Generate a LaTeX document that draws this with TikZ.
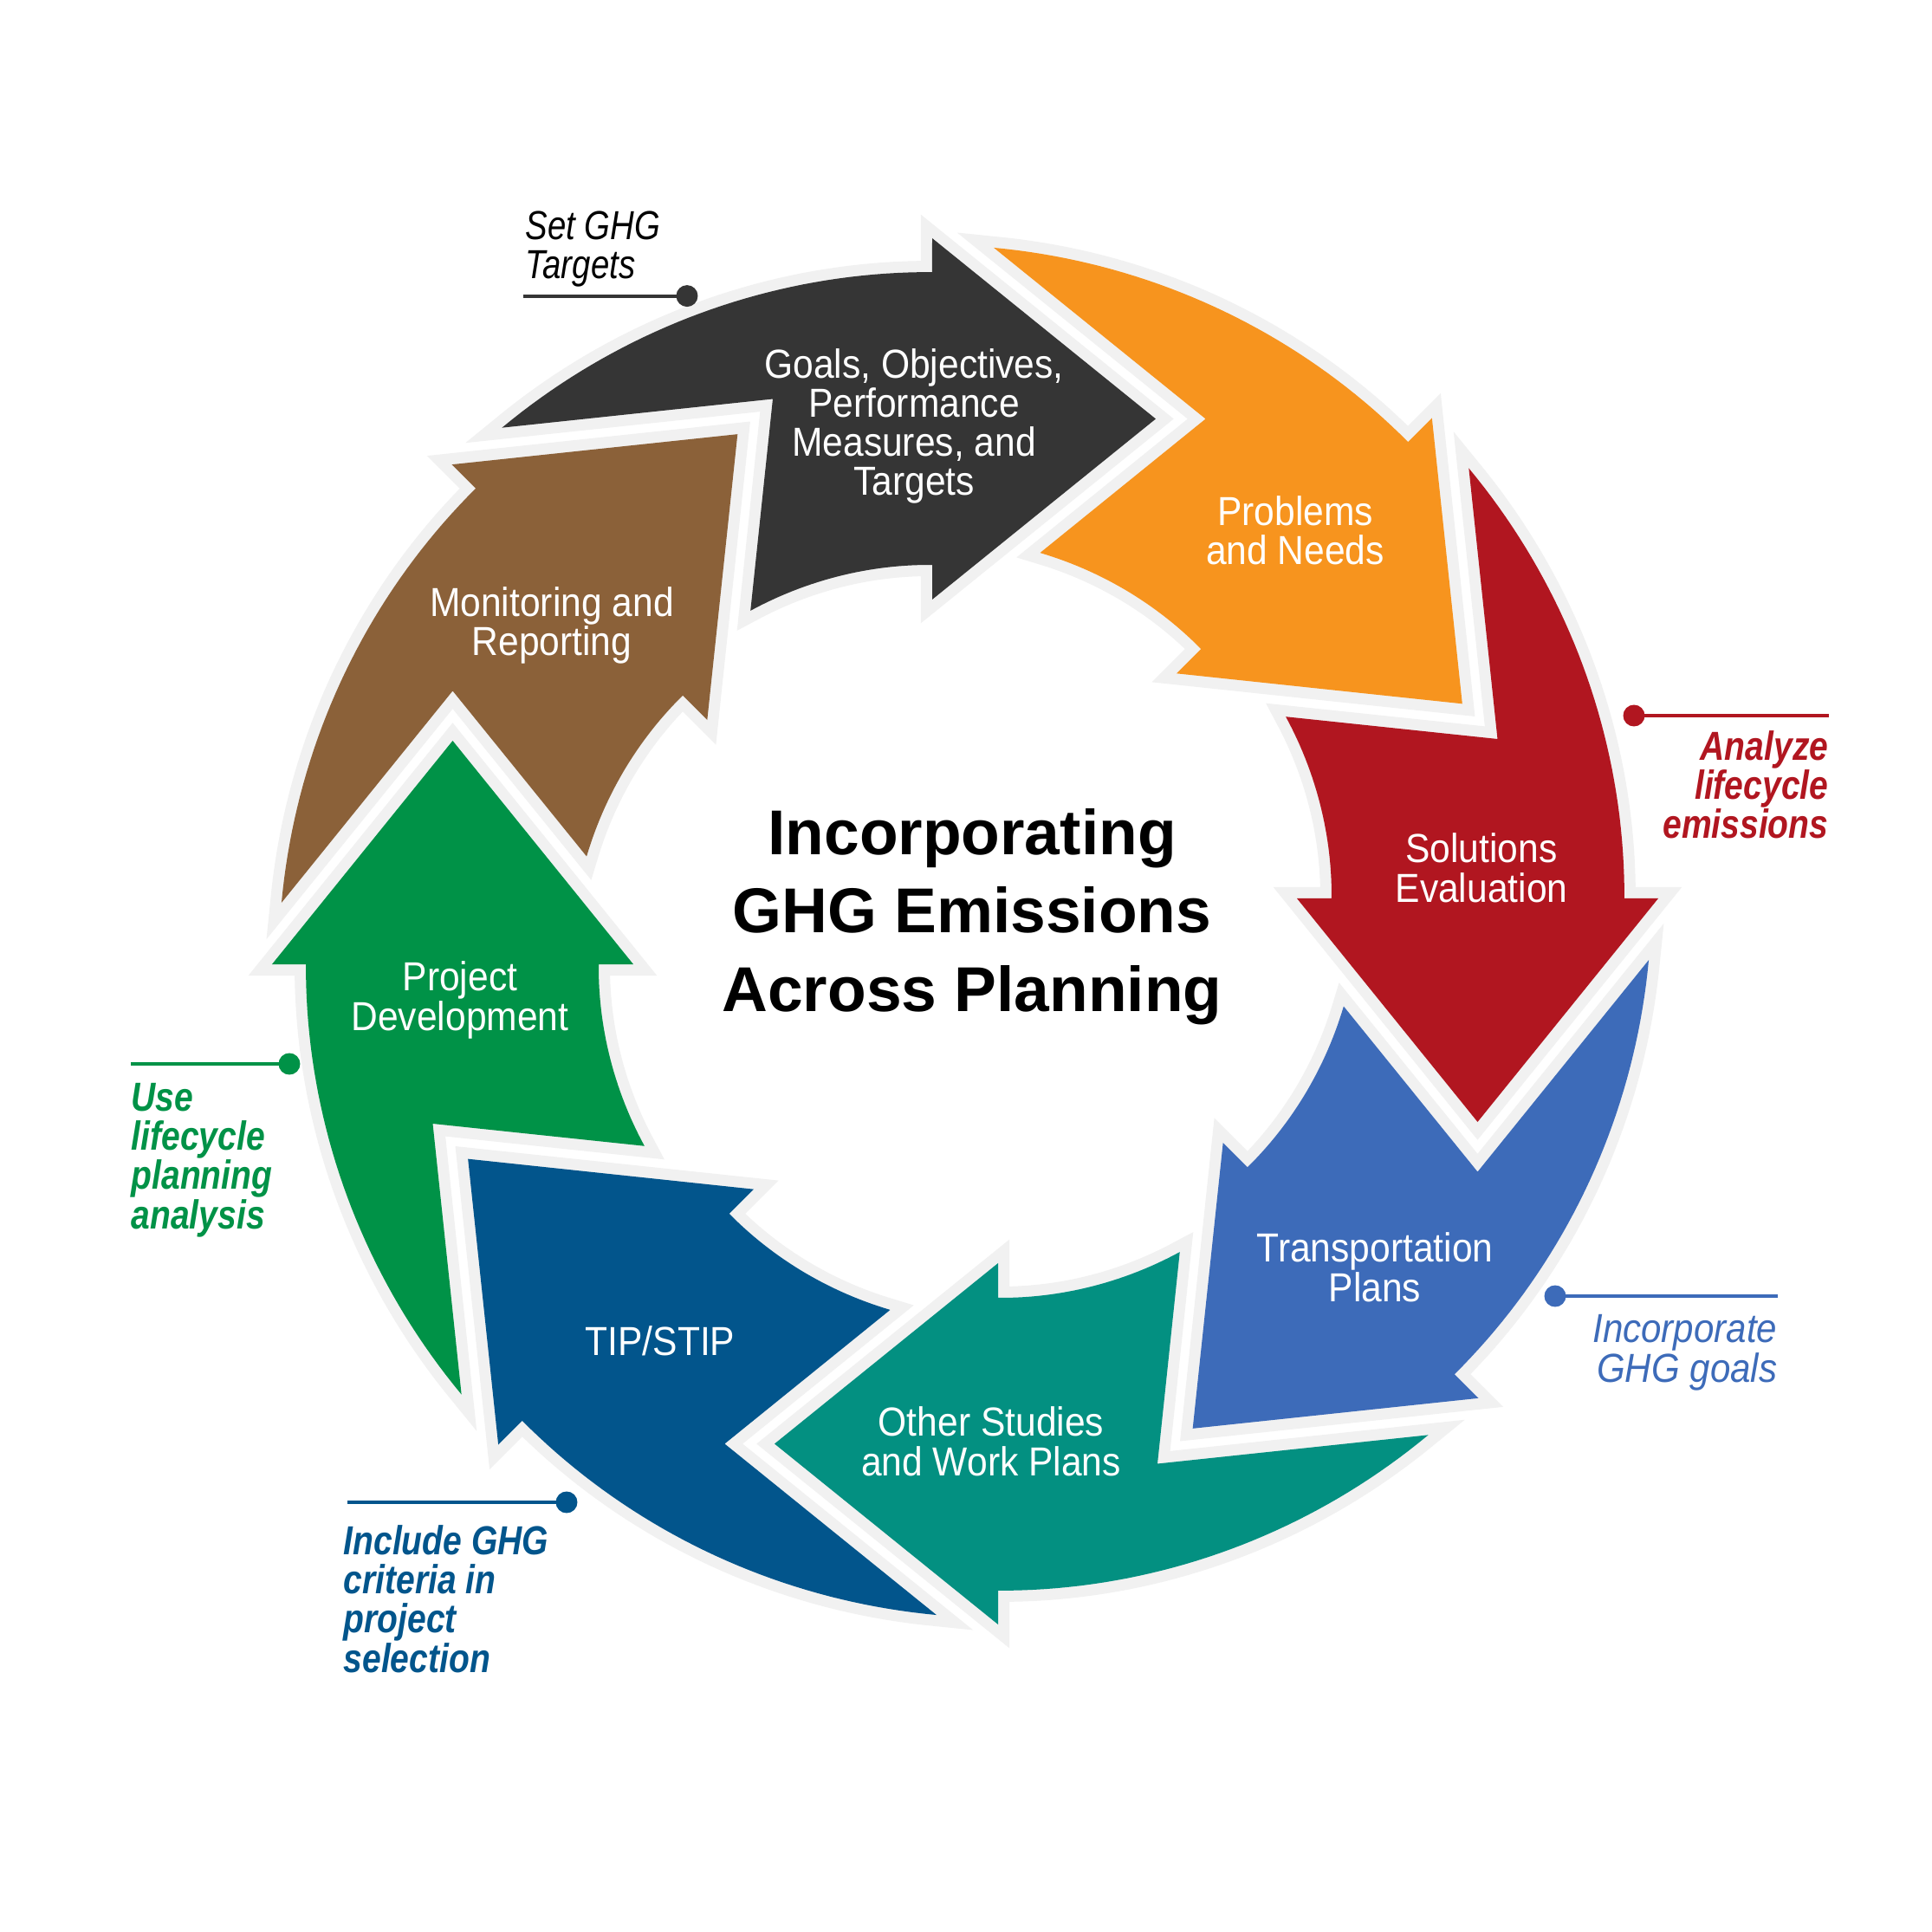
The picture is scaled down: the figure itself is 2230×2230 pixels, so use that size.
\documentclass[tikz,border=0pt]{standalone}
\usepackage{fontspec}
\setmainfont{Liberation Sans}
\newfontfamily\labfont[FakeStretch=0.91]{Liberation Sans}
\newfontfamily\itfont[FakeStretch=0.82]{Liberation Sans}
\newfontfamily\itwfont[FakeStretch=0.9]{Liberation Sans}
\newfontfamily\bifont[FakeStretch=0.835]{Liberation Sans}
\definecolor{cgray}{RGB}{241,241,241}
\definecolor{cblack}{RGB}{53,53,53}
\definecolor{corange}{RGB}{247,148,30}
\definecolor{cred}{RGB}{177,22,32}
\definecolor{cblue}{RGB}{61,107,185}
\definecolor{cteal}{RGB}{3,144,129}
\definecolor{cnavy}{RGB}{2,85,140}
\definecolor{cgreen}{RGB}{0,146,71}
\definecolor{cbrown}{RGB}{139,97,57}
% one cycle arrow (frame of the top arrow), rotated by #1, path options #2
\newcommand{\cyclearrow}[2]{%
  \path[rotate=#1,#2] (220,591.5) -- (-38,383) -- (-38,423)
    -- plot[domain=95.13:123.8, samples=30] (\x:{424.7+(\x-95.13)*0.722})
    -- (-222,614.5)
    -- plot[domain=132.6:92.86, samples=40] (\x:{761.9+(\x-92.86)*0.702})
    -- (-38,800) -- cycle;}
\begin{document}
\begin{tikzpicture}[x=0.01cm,y=0.01cm,
  lab/.style={text=white, align=center, inner sep=0pt, anchor=base,
    font=\labfont\fontsize{13.3}{12.8}\selectfont},
  annoit/.style={inner sep=0pt, font=\itfont\itshape\fontsize{13.3}{12.8}\selectfont},
  annoitw/.style={inner sep=0pt, font=\itwfont\itshape\fontsize{13.3}{12.8}\selectfont},
  annobi/.style={inner sep=0pt, font=\bifont\bfseries\itshape\fontsize{13.3}{12.8}\selectfont},
  dot/.style={circle, inner sep=0pt, minimum size=7.1pt},
  lead/.style={line width=1.1pt}]
\useasboundingbox (-1114,-1155) rectangle (1116,1075);
\fill[white] (-1114,-1155) rectangle (1116,1075);
% gray outlines first
\foreach \k in {0,...,7}{\cyclearrow{-45*\k}{draw=cgray, line width=7.4pt, line join=miter}}
% coloured fills
\foreach \k/\c in {0/cblack,1/corange,2/cred,3/cblue,4/cteal,5/cnavy,6/cgreen,7/cbrown}{\cyclearrow{-45*\k}{fill=\c}}
% labels in the arrows (anchor = baseline of the last line)
\node[lab] (goals) at (-59,503) {Goals, Objectives,\\Performance\\Measures, and\\Targets};
\node[lab] (problems) at (381,423) {Problems\\and Needs};
\node[lab] (solutions) at (596,34) {Solutions\\Evaluation};
\node[lab] (transport) at (473,-427) {Transportation\\Plans};
\node[lab] (other) at (30,-628) {Other Studies\\and Work Plans};
\node[lab] (tip) at (-352,-489) {TIP/STIP};
\node[lab] (project) at (-583,-114) {Project\\Development};
\node[lab] (monitor) at (-477,318) {Monitoring and\\Reporting};
% title
\node[align=center, inner sep=0pt, anchor=base, font=\bfseries\fontsize{20.8}{25.6}\selectfont] (title) at (8,-92) {Incorporating\\GHG Emissions\\Across Planning};
% annotations
\node[annoit, align=left, anchor=base west] (setghg) at (-508,753) {Set GHG\\Targets};
\node[dot, fill=cblack] (d1) at (-321,733.4) {};
\coordinate (e1) at (-510,733.4);
\draw[lead, cblack] (e1) -- (d1.center);

\node[annobi, text=cred, align=right, anchor=base east] (analyze) at (997,107) {Analyze\\lifecycle\\emissions};
\node[dot, fill=cred] (d2) at (772,249) {};
\coordinate (e2) at (997,249);
\draw[lead, cred] (d2.center) -- (e2);

\node[annoitw, text=cblue, align=right, anchor=base east] (incorp) at (938,-520) {Incorporate\\GHG goals};
\node[dot, fill=cblue] (d3) at (681,-421) {};
\coordinate (e3) at (938,-421);
\draw[lead, cblue] (d3.center) -- (e3);

\node[annobi, text=cgreen, align=left, anchor=base west] (use) at (-963,-343) {Use\\lifecycle\\planning\\analysis};
\node[dot, fill=cgreen] (d4) at (-780,-153) {};
\coordinate (e4) at (-963,-153);
\draw[lead, cgreen] (e4) -- (d4.center);

\node[annobi, text=cnavy, align=left, anchor=base west] (include) at (-718,-855) {Include GHG\\criteria in\\project\\selection};
\node[dot, fill=cnavy] (d5) at (-460,-659) {};
\coordinate (e5) at (-713,-659);
\draw[lead, cnavy] (e5) -- (d5.center);
\end{tikzpicture}
\end{document}
